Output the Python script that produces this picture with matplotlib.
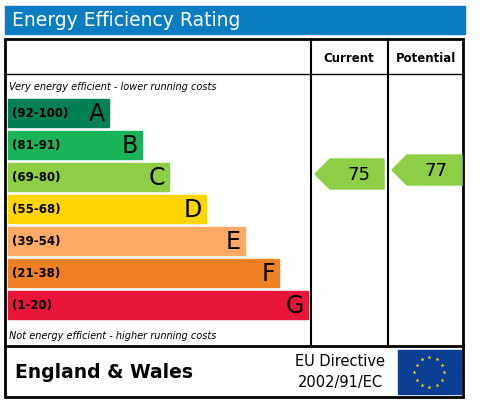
import numpy as np
import matplotlib
matplotlib.use('Agg')
import matplotlib.pyplot as plt
from matplotlib.patches import Rectangle, Polygon

# Band data
bands = ['A', 'B', 'C', 'D', 'E', 'F', 'G']
ranges = ['(92-100)', '(81-91)', '(69-80)', '(55-68)', '(39-54)', '(21-38)', '(1-20)']
colors = ['#008054', '#19b459', '#8dce46', '#ffd500', '#fcaa65', '#ef8023', '#e9153b']
bar_ends = [109, 142, 169, 206, 245, 279, 308]
current = 75
potential = 77

fig = plt.figure(figsize=(4.81, 4.07), dpi=100)
ax = fig.add_axes([0, 0, 1, 1])
ax.set_xlim(0, 481)
ax.set_ylim(407, 0)
ax.axis('off')

# title bar
ax.add_patch(Rectangle((5, 6), 460, 28, color='#0a7cc2'))
ax.text(12, 21, 'Energy Efficiency Rating', color='white', fontsize=13.5, va='center')

# frame
ax.add_patch(Rectangle((5, 39), 458, 358, fill=False, lw=2, ec='black'))
ax.plot([5, 463], [74, 74], color='black', lw=1)
ax.plot([5, 463], [346, 346], color='black', lw=2)
ax.plot([311, 311], [39, 346], color='black', lw=1.5)
ax.plot([388, 388], [39, 346], color='black', lw=1.5)
ax.text(349, 58, 'Current', fontsize=8.5, weight='bold', ha='center', va='center')
ax.text(426, 58, 'Potential', fontsize=8.5, weight='bold', ha='center', va='center')

ax.text(9, 87, 'Very energy efficient - lower running costs', fontsize=7, style='italic', va='center')
ax.text(9, 336, 'Not energy efficient - higher running costs', fontsize=7, style='italic', va='center')

top, step, h = 99, 32, 28
for i, (b, r, c, e) in enumerate(zip(bands, ranges, colors, bar_ends)):
    y = top + i * step
    ax.add_patch(Rectangle((8, y), e - 8, h, color=c))
    tc = 'white' if i in (0, 6) and False else 'black'
    ax.text(12, y + h / 2, r, fontsize=8.5, weight='bold', va='center', color=tc)
    ax.text(e - 4, y + h / 2 + 1, b, fontsize=17, ha='right', va='center', color=tc)

def band_of(v):
    lows = [92, 81, 69, 55, 39, 21, 1]
    for i, lo in enumerate(lows):
        if v >= lo:
            return i
    return 6

def arrow(x0, x1, yc, val):
    c = colors[band_of(val)]
    pts = [(x0, yc), (x0 + 15, yc - 15), (x1, yc - 15), (x1, yc + 15), (x0 + 15, yc + 15)]
    ax.add_patch(Polygon(pts, color=c))
    ax.text((x0 + 15 + x1) / 2 + 2, yc + 1, str(val), fontsize=13, ha='center', va='center')

arrow(315, 384, 174, current)
arrow(392, 462, 170, potential)

ax.text(15, 372, 'England & Wales', fontsize=13.5, weight='bold', va='center')
ax.text(340, 362, 'EU Directive', fontsize=10.5, ha='center', va='center')
ax.text(340, 382, '2002/91/EC', fontsize=10.5, ha='center', va='center')

# EU flag
ax.add_patch(Rectangle((398, 350), 63, 44, color='#0b3f94'))
ang = np.linspace(0, 2 * np.pi, 12, endpoint=False)
ax.scatter(429.5 + 15 * np.cos(ang), 372 + 15 * np.sin(ang), marker='*', s=9, color='#ffdd00', lw=0)

fig.savefig('out.png', dpi=100)
